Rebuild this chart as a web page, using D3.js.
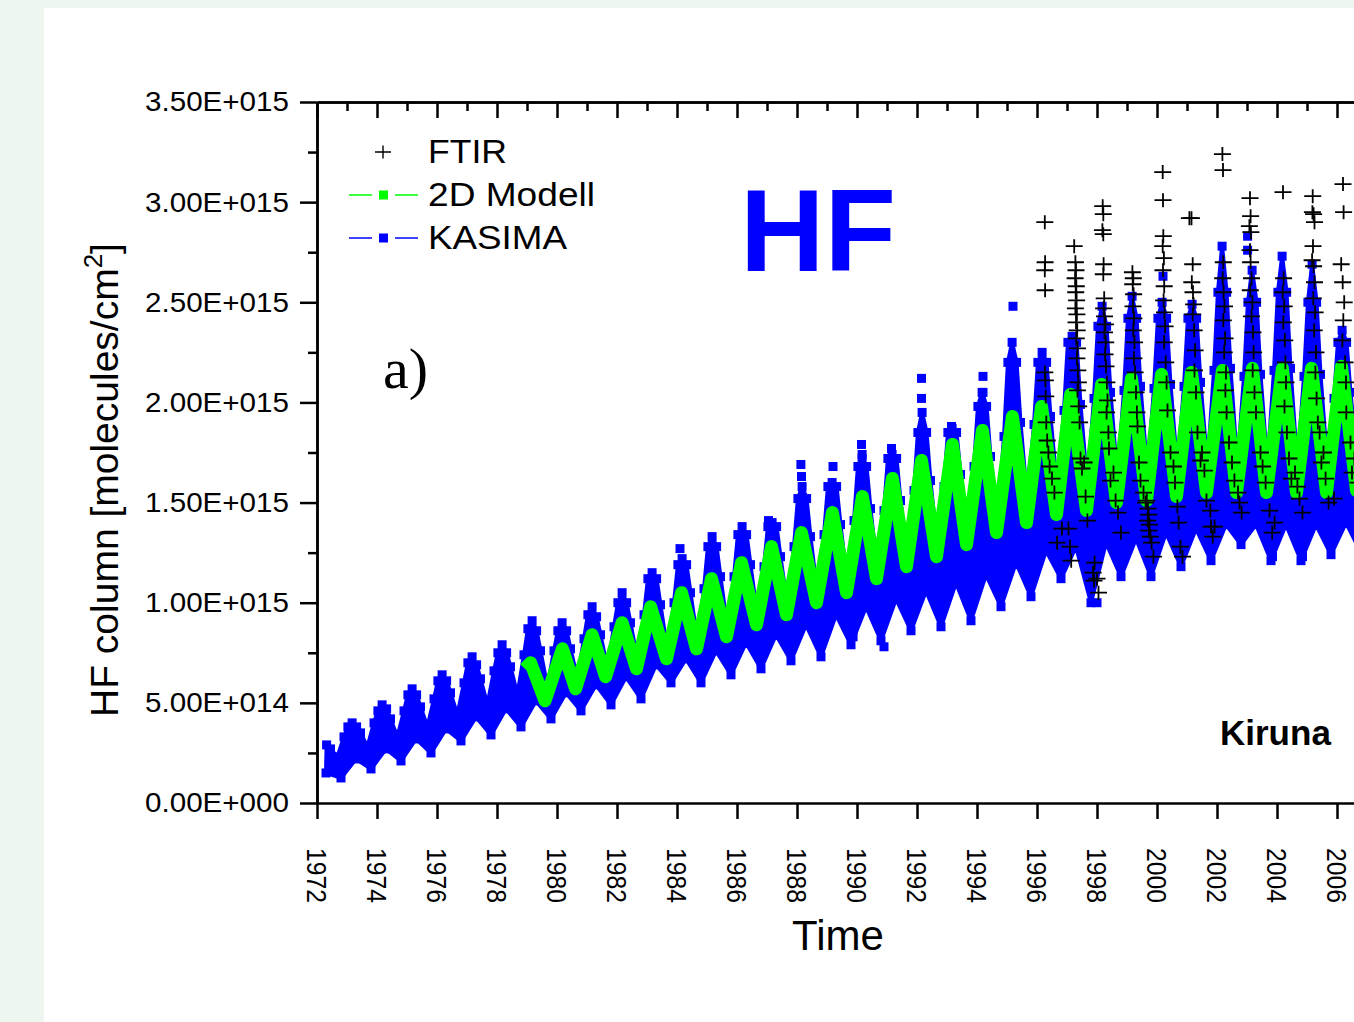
<!DOCTYPE html>
<meta charset="utf-8">

<!-- Load d3.js -->
<script src="https://d3js.org/d3.v7.min.js"></script>

<style>
    body {
        margin: 0;
        background-color: #eef7ef;
        overflow: hidden;
    }
    text {
        font-family: "Liberation Sans", Arial, sans-serif;
    }
</style>

<!-- Create a div where the graph will take place -->
<div id="my_dataviz"></div>

<script>

    // ---- data (column values in units of 1E+015 molecules/cm2) ----

    var yTickValues = [0, 0.5, 1, 1.5, 2, 2.5, 3, 3.5];
    var yTickLabels = ["0.00E+000", "5.00E+014", "1.00E+015", "1.50E+015",
                       "2.00E+015", "2.50E+015", "3.00E+015", "3.50E+015"];
    var yMinorTicks = [0.25, 0.75, 1.25, 1.75, 2.25, 2.75, 3.25];
    var xTickYears = [1972, 1974, 1976, 1978, 1980, 1982, 1984, 1986, 1988, 1990,
                      1992, 1994, 1996, 1998, 2000, 2002, 2004, 2006, 2008];
    var xLabelYears = [1972, 1974, 1976, 1978, 1980, 1982, 1984, 1986, 1988, 1990,
                       1992, 1994, 1996, 1998, 2000, 2002, 2004, 2006];
    var xMinorYears = [1973, 1975, 1977, 1979, 1981, 1983, 1985, 1987, 1989, 1991,
                       1993, 1995, 1997, 1999, 2001, 2003, 2005, 2007];

    // KASIMA: envelope of the dense daily model points, one value per year
    var kasimaYears = [1972, 1973, 1974, 1975, 1976, 1977, 1978, 1979, 1980, 1981, 1982, 1983,
                       1984, 1985, 1986, 1987, 1988, 1989, 1990, 1991, 1992, 1993, 1994, 1995,
                       1996, 1997, 1998, 1999, 2000, 2001, 2002, 2003, 2004, 2005, 2006, 2007];
    // upper edge: December (before), February, winter maximum, late March, May, September
    var kasimaDec = [null, 0.33, 0.40, 0.46, 0.52, 0.60, 0.66, 0.74, 0.76, 0.82, 0.88, 0.94,
                     1.00, 1.07, 1.13, 1.18, 1.28, 1.34, 1.41, 1.46, 1.56, 1.58, 1.68, 1.83,
                     1.89, 1.96, 2.02, 2.06, 2.07, 2.08, 2.16, 2.13, 2.16, 2.13, 2.02, 2.08];
    var kasimaFeb = [null, 0.38, 0.46, 0.54, 0.61, 0.70, 0.75, 0.87, 0.86, 0.94, 1.00, 1.12,
                     1.19, 1.28, 1.34, 1.38, 1.52, 1.58, 1.68, 1.72, 1.85, 1.85, 1.98, 2.20,
                     2.20, 2.30, 2.38, 2.42, 2.42, 2.42, 2.55, 2.50, 2.55, 2.50, 2.30, 2.40];
    var kasimaPeak = [null, 0.40, 0.49, 0.57, 0.64, 0.73, 0.79, 0.91, 0.90, 0.98, 1.05, 1.15,
                      1.22, 1.33, 1.38, 1.40, 1.58, 1.60, 1.72, 1.74, 1.95, 1.87, 2.05, 2.30,
                      2.25, 2.33, 2.48, 2.53, 2.50, 2.49, 2.78, 2.66, 2.73, 2.69, 2.36, 2.55];
    var kasimaMar = [0.29, 0.38, 0.47, 0.54, 0.61, 0.69, 0.75, 0.86, 0.86, 0.93, 1.00, 1.12,
                     1.19, 1.28, 1.34, 1.38, 1.52, 1.58, 1.68, 1.72, 1.85, 1.85, 1.98, 2.20,
                     2.20, 2.30, 2.38, 2.42, 2.42, 2.42, 2.55, 2.50, 2.55, 2.50, 2.30, 2.40];
    var kasimaMay = [0.27, 0.35, 0.42, 0.48, 0.55, 0.62, 0.68, 0.76, 0.77, 0.84, 0.90, 0.99,
                     1.05, 1.13, 1.19, 1.23, 1.33, 1.39, 1.47, 1.51, 1.61, 1.64, 1.73, 1.90,
                     1.93, 1.99, 2.05, 2.08, 2.09, 2.10, 2.17, 2.14, 2.17, 2.14, 2.05, 2.10];
    var kasimaSep = [0.23, 0.28, 0.33, 0.38, 0.44, 0.49, 0.54, 0.58, 0.62, 0.67, 0.71, 0.76,
                     0.81, 0.87, 0.93, 0.98, 1.04, 1.09, 1.15, 1.21, 1.26, 1.32, 1.38, 1.50,
                     1.55, 1.58, 1.62, 1.64, 1.66, 1.68, 1.68, 1.68, 1.68, 1.68, 1.69, 1.70];
    // lower edge: April, October minimum
    var kasimaAprLow = [0.15, 0.22, 0.27, 0.32, 0.37, 0.43, 0.47, 0.51, 0.55, 0.59, 0.63, 0.69,
                        0.72, 0.76, 0.80, 0.84, 0.89, 0.94, 0.98, 1.02, 1.06, 1.10, 1.14, 1.20,
                        1.26, 1.28, 1.30, 1.32, 1.35, 1.37, 1.39, 1.39, 1.39, 1.39, 1.40, 1.41];
    var kasimaOctLow = [0.125, 0.17, 0.21, 0.25, 0.31, 0.34, 0.38, 0.42, 0.46, 0.49, 0.52, 0.60,
                        0.60, 0.64, 0.67, 0.71, 0.73, 0.79, 0.81, 0.86, 0.88, 0.91, 0.98, 1.03,
                        1.12, 1.00, 1.13, 1.13, 1.18, 1.21, 1.29, 1.21, 1.21, 1.24, 1.25, 1.27];
    // single KASIMA points standing apart from the band
    var kasimaOutliers = [[1984.10, 1.27], [1987.05, 1.41], [1988.13, 1.69], [1988.15, 1.63],
                          [1989.20, 1.68], [1990.15, 1.79], [1990.17, 1.74], [1991.15, 1.77],
                          [1992.15, 2.12], [1992.15, 2.02], [1993.15, 1.88], [1994.20, 2.13],
                          [1994.20, 2.05], [1995.20, 2.48], [2000.20, 2.63], [2003.02, 2.83],
                          [2003.02, 2.76], [1989.87, 0.83], [1990.90, 0.78], [2003.85, 1.23],
                          [2004.85, 1.23], [1998.00, 1.00]];

    // 2D Modell turning points
    var modelPoints = [[1978.93, 0.67], [1979.12, 0.70], [1979.60, 0.51], [1980.18, 0.77],
                       [1980.62, 0.57], [1981.17, 0.84], [1981.62, 0.63], [1982.17, 0.90],
                       [1982.65, 0.67], [1983.12, 0.98], [1983.65, 0.72], [1984.15, 1.05],
                       [1984.65, 0.77], [1985.15, 1.12], [1985.65, 0.83], [1986.15, 1.20],
                       [1986.65, 0.89], [1987.15, 1.28], [1987.65, 0.94], [1988.15, 1.35],
                       [1988.65, 1.00], [1989.18, 1.45], [1989.65, 1.05], [1990.18, 1.53],
                       [1990.65, 1.12], [1991.18, 1.62], [1991.65, 1.18], [1992.15, 1.71],
                       [1992.65, 1.23], [1993.18, 1.79], [1993.65, 1.29], [1994.18, 1.86],
                       [1994.65, 1.35], [1995.18, 1.93], [1995.65, 1.40], [1996.15, 1.98],
                       [1996.65, 1.44], [1997.12, 2.04], [1997.65, 1.46], [1998.15, 2.09],
                       [1998.65, 1.50], [1999.15, 2.12], [1999.65, 1.51], [2000.15, 2.14],
                       [2000.65, 1.53], [2001.15, 2.15], [2001.65, 1.55], [2002.18, 2.16],
                       [2002.65, 1.55], [2003.18, 2.17], [2003.65, 1.55], [2004.18, 2.17],
                       [2004.65, 1.55], [2005.15, 2.17], [2005.65, 1.55], [2006.15, 2.18],
                       [2006.65, 1.56], [2007.15, 2.18]];

    // FTIR measurements
    var ftirPoints = [
        [1996.26, 2.90], [1996.27, 2.70], [1996.26, 2.66], [1996.27, 2.56], [1996.26, 2.15],
        [1996.28, 2.11], [1996.29, 2.03], [1996.31, 1.90], [1996.34, 1.81], [1996.38, 1.75],
        [1996.42, 1.68], [1996.50, 1.62], [1996.58, 1.55], [1996.67, 1.30], [1996.83, 1.37],
        [1997.05, 1.37], [1997.10, 1.28], [1997.14, 1.21], [1997.24, 2.78], [1997.28, 2.70],
        [1997.30, 2.66], [1997.27, 2.62], [1997.31, 2.58], [1997.29, 2.55], [1997.32, 2.51],
        [1997.28, 2.47], [1997.33, 2.44], [1997.30, 2.40], [1997.34, 2.36], [1997.31, 2.32],
        [1997.35, 2.27], [1997.33, 2.22], [1997.36, 2.16], [1997.38, 2.10], [1997.35, 2.06],
        [1997.39, 1.98], [1997.42, 1.90], [1997.45, 1.72], [1997.50, 1.67], [1997.57, 1.70],
        [1997.62, 1.53], [1997.68, 1.41], [1997.87, 1.15], [1997.90, 1.11], [1997.92, 1.20],
        [1998.00, 1.12], [1998.05, 1.05],
        [1998.19, 2.98], [1998.21, 2.94], [1998.18, 2.86], [1998.21, 2.84], [1998.22, 2.69],
        [1998.21, 2.64], [1998.24, 2.52], [1998.22, 2.47], [1998.25, 2.43], [1998.28, 2.39],
        [1998.25, 2.35], [1998.29, 2.30], [1998.27, 2.24], [1998.30, 2.18], [1998.33, 2.10],
        [1998.35, 2.01], [1998.32, 1.95], [1998.38, 1.85], [1998.40, 1.77], [1998.45, 1.61],
        [1998.55, 1.65], [1998.62, 1.51], [1998.70, 1.45], [1998.80, 1.35],
        [1999.18, 2.65], [1999.21, 2.62], [1999.19, 2.59], [1999.22, 2.54], [1999.20, 2.48],
        [1999.23, 2.42], [1999.21, 2.36], [1999.25, 2.30], [1999.23, 2.22], [1999.27, 2.15],
        [1999.30, 2.05], [1999.33, 1.95], [1999.35, 1.88], [1999.40, 1.70], [1999.45, 1.61],
        [1999.55, 1.55], [1999.62, 1.50], [1999.66, 1.51], [1999.70, 1.47], [1999.72, 1.44],
        [1999.69, 1.41], [1999.75, 1.39], [1999.73, 1.36], [1999.78, 1.33], [1999.82, 1.30],
        [1999.88, 1.23],
        [2000.19, 3.15], [2000.20, 3.01], [2000.21, 2.83], [2000.19, 2.78], [2000.23, 2.72],
        [2000.20, 2.66], [2000.24, 2.58], [2000.22, 2.51], [2000.25, 2.45], [2000.27, 2.38],
        [2000.24, 2.30], [2000.29, 2.20], [2000.32, 2.10], [2000.35, 1.96], [2000.45, 1.75],
        [2000.55, 1.68], [2000.60, 1.60], [2000.68, 1.48], [2000.72, 1.40], [2000.78, 1.28],
        [2000.85, 1.23],
        [2001.08, 2.92], [2001.15, 2.92], [2001.19, 2.69], [2001.16, 2.60], [2001.20, 2.55],
        [2001.22, 2.49], [2001.19, 2.44], [2001.24, 2.36], [2001.27, 2.26], [2001.25, 2.16],
        [2001.30, 2.05], [2001.35, 1.85], [2001.45, 1.71], [2001.50, 1.75], [2001.58, 1.66],
        [2001.65, 1.51], [2001.78, 1.46], [2001.80, 1.38], [2001.86, 1.33], [2001.92, 1.38],
        [2002.18, 3.24], [2002.20, 3.16], [2002.21, 2.70], [2002.19, 2.62], [2002.22, 2.55],
        [2002.25, 2.48], [2002.21, 2.41], [2002.27, 2.32], [2002.24, 2.25], [2002.30, 2.15],
        [2002.28, 2.06], [2002.32, 1.95], [2002.40, 1.80], [2002.50, 1.70], [2002.58, 1.61],
        [2002.70, 1.55], [2002.75, 1.50], [2002.82, 1.45],
        [2003.10, 3.02], [2003.12, 2.93], [2003.08, 2.88], [2003.13, 2.85], [2003.10, 2.76],
        [2003.12, 2.70], [2003.15, 2.62], [2003.11, 2.56], [2003.18, 2.50], [2003.15, 2.43],
        [2003.20, 2.35], [2003.22, 2.25], [2003.19, 2.16], [2003.25, 2.05], [2003.30, 1.95],
        [2003.45, 1.75], [2003.52, 1.68], [2003.62, 1.60], [2003.75, 1.46], [2003.84, 1.35],
        [2003.92, 1.40],
        [2004.20, 3.05], [2004.22, 2.62], [2004.19, 2.55], [2004.24, 2.48], [2004.21, 2.40],
        [2004.26, 2.31], [2004.28, 2.20], [2004.30, 2.10], [2004.25, 1.98], [2004.33, 1.85],
        [2004.40, 1.72], [2004.48, 1.62], [2004.60, 1.65], [2004.68, 1.58], [2004.75, 1.52],
        [2004.85, 1.45],
        [2005.19, 3.03], [2005.18, 2.95], [2005.22, 2.94], [2005.25, 2.90], [2005.20, 2.78],
        [2005.17, 2.71], [2005.22, 2.68], [2005.25, 2.60], [2005.21, 2.52], [2005.27, 2.45],
        [2005.24, 2.36], [2005.30, 2.25], [2005.28, 2.15], [2005.32, 2.02], [2005.36, 1.90],
        [2005.42, 1.85], [2005.48, 1.70], [2005.55, 1.75], [2005.62, 1.62], [2005.72, 1.50],
        [2005.90, 1.52],
        [2006.20, 3.09], [2006.22, 2.95], [2006.14, 2.69], [2006.19, 2.60], [2006.24, 2.50],
        [2006.21, 2.41], [2006.18, 2.31], [2006.27, 2.20], [2006.30, 2.10], [2006.31, 1.95],
        [2006.45, 1.80], [2006.50, 1.65], [2006.58, 1.72], [2006.70, 1.60]
    ];

    var legendNames = ["FTIR", "2D Modell", "KASIMA"];
    var legendColors = ["black", "#00ff00", "#0000ff"];
    var legendWidths = [79, 167, 139];

    // ---- page ----

    var svg = d3.select("#my_dataviz")
        .append("svg")
        .attr("width", 1354)
        .attr("height", 1022);

    // white paper
    svg.append("rect")
        .attr("x", 44).attr("y", 8)
        .attr("width", 1310).attr("height", 1014)
        .attr("fill", "white");

    var x = d3.scaleLinear().domain([1972, 2008]).range([317, 1397]);
    var y = d3.scaleLinear().domain([0, 3.5]).range([803, 102]);

    var line = d3.line()
        .x(function (d) { return x(d[0]); })
        .y(function (d) { return y(d[1]); });

    // ---- KASIMA band ----
    var upperSeries = [[-0.10, kasimaDec], [0.03, kasimaFeb], [0.17, kasimaPeak],
                       [0.32, kasimaMar], [0.45, kasimaMay], [0.68, kasimaSep]];
    var upperPts = [], lowerPts = [];
    kasimaYears.forEach(function (yr, i) {
        upperSeries.forEach(function (p) {
            if (p[1][i] != null) upperPts.push([yr + p[0], p[1][i]]);
        });
        lowerPts.push([yr + 0.30, kasimaAprLow[i]]);
        lowerPts.push([yr + 0.80, kasimaOctLow[i]]);
    });

    svg.append("path")
        .attr("d", line(upperPts.concat(lowerPts.slice().reverse())) + "Z")
        .attr("fill", "#0000ff")
        .attr("stroke", "#0000ff")
        .attr("stroke-width", 4)
        .attr("stroke-linejoin", "round");

    svg.selectAll("kasimaSq")
        .data(upperPts.concat(lowerPts, kasimaOutliers))
        .enter()
        .append("rect")
        .attr("x", function (d) { return x(d[0]) - 4.5; })
        .attr("y", function (d) { return y(d[1]) - 4.5; })
        .attr("width", 9).attr("height", 9)
        .attr("fill", "#0000ff");

    // ---- 2D Modell ----
    svg.append("path")
        .datum(modelPoints)
        .attr("d", line)
        .attr("fill", "none")
        .attr("stroke", "#00ff00")
        .attr("stroke-width", 13)
        .attr("stroke-linejoin", "round");

    // ---- FTIR ----
    var cross = "M-8.5,0H8.5M0,-7V7";
    svg.selectAll("ftir")
        .data(ftirPoints)
        .enter()
        .append("path")
        .attr("transform", function (d) { return "translate(" + x(d[0]) + "," + y(d[1]) + ")"; })
        .attr("d", cross)
        .attr("stroke", "black")
        .attr("stroke-width", 1.8)
        .attr("fill", "none");

    // ---- axes ----
    var axisG = svg.append("g");

    axisG.append("g")
        .attr("transform", "translate(317,0)")
        .call(d3.axisLeft(y).tickValues(yTickValues).tickSize(17).tickSizeOuter(0)
            .tickPadding(11).tickFormat(function (d, i) { return yTickLabels[i]; }));
    axisG.append("g")
        .attr("transform", "translate(317,0)")
        .call(d3.axisLeft(y).tickValues(yMinorTicks).tickSize(9).tickSizeOuter(0).tickFormat(""));

    axisG.append("g")
        .attr("transform", "translate(0,803)")
        .call(d3.axisBottom(x).tickValues(xTickYears).tickSize(16).tickSizeOuter(0).tickFormat(""));

    // top axis, ticks pointing inward
    axisG.append("g")
        .attr("transform", "translate(0,102)")
        .call(d3.axisBottom(x).tickValues(xTickYears).tickSize(16).tickSizeOuter(0).tickFormat(""));
    axisG.append("g")
        .attr("transform", "translate(0,102)")
        .call(d3.axisBottom(x).tickValues(xMinorYears).tickSize(9).tickSizeOuter(0).tickFormat(""));

    axisG.selectAll("path, line")
        .attr("stroke", "black")
        .attr("stroke-width", 2.5);
    axisG.selectAll("text")
        .attr("font-size", 28)
        .attr("fill", "black")
        .attr("textLength", 144)
        .attr("lengthAdjust", "spacingAndGlyphs");

    // rotated year labels
    svg.selectAll("yearLabel")
        .data(xLabelYears)
        .enter()
        .append("text")
        .attr("transform", function (d) { return "translate(" + x(d) + ",848) rotate(90)"; })
        .attr("dy", "0.36em")
        .attr("font-size", 27)
        .attr("textLength", 55)
        .attr("lengthAdjust", "spacingAndGlyphs")
        .text(function (d) { return d; });

    // axis titles
    svg.append("text")
        .attr("x", 838).attr("y", 950)
        .attr("text-anchor", "middle")
        .attr("font-size", 42)
        .text("Time");

    var yTitle = svg.append("text")
        .attr("transform", "translate(118,480) rotate(-90)")
        .attr("text-anchor", "middle")
        .attr("font-size", 39);
    yTitle.append("tspan").text("HF column [molecules/cm");
    yTitle.append("tspan").attr("font-size", 26).attr("dy", -16).text("2");
    yTitle.append("tspan").attr("dy", 16).text("]");

    // ---- legend ----
    var legend = svg.append("g");
    legend.append("path")
        .attr("transform", "translate(383,152)")
        .attr("d", "M-8,0H8M0,-6.5V6.5")
        .attr("stroke", "black")
        .attr("stroke-width", 1.4);
    [1, 2].forEach(function (i) {
        var ly = 152 + i * 43;
        legend.append("line").attr("x1", 349).attr("x2", 372).attr("y1", ly).attr("y2", ly)
            .attr("stroke", legendColors[i]).attr("stroke-width", 1.5);
        legend.append("line").attr("x1", 395).attr("x2", 418).attr("y1", ly).attr("y2", ly)
            .attr("stroke", legendColors[i]).attr("stroke-width", 1.5);
        legend.append("rect").attr("x", 379).attr("y", ly - 4.5).attr("width", 9).attr("height", 9)
            .attr("fill", legendColors[i]);
    });
    legendNames.forEach(function (name, i) {
        legend.append("text")
            .attr("x", 428).attr("y", 163 + i * 43)
            .attr("font-size", 34)
            .attr("textLength", legendWidths[i])
            .attr("lengthAdjust", "spacingAndGlyphs")
            .text(name);
    });

    // ---- annotations ----
    svg.append("text")
        .attr("x", 740).attr("y", 271)
        .attr("font-size", 117)
        .attr("font-weight", "bold")
        .attr("fill", "#0000ff")
        .text("HF");

    svg.append("text")
        .attr("x", 383).attr("y", 388)
        .style("font-family", "'Liberation Serif', 'Times New Roman', serif")
        .attr("font-size", 58)
        .text("a)");

    svg.append("text")
        .attr("x", 1220).attr("y", 745)
        .attr("font-size", 35)
        .attr("font-weight", "bold")
        .text("Kiruna");

</script>
